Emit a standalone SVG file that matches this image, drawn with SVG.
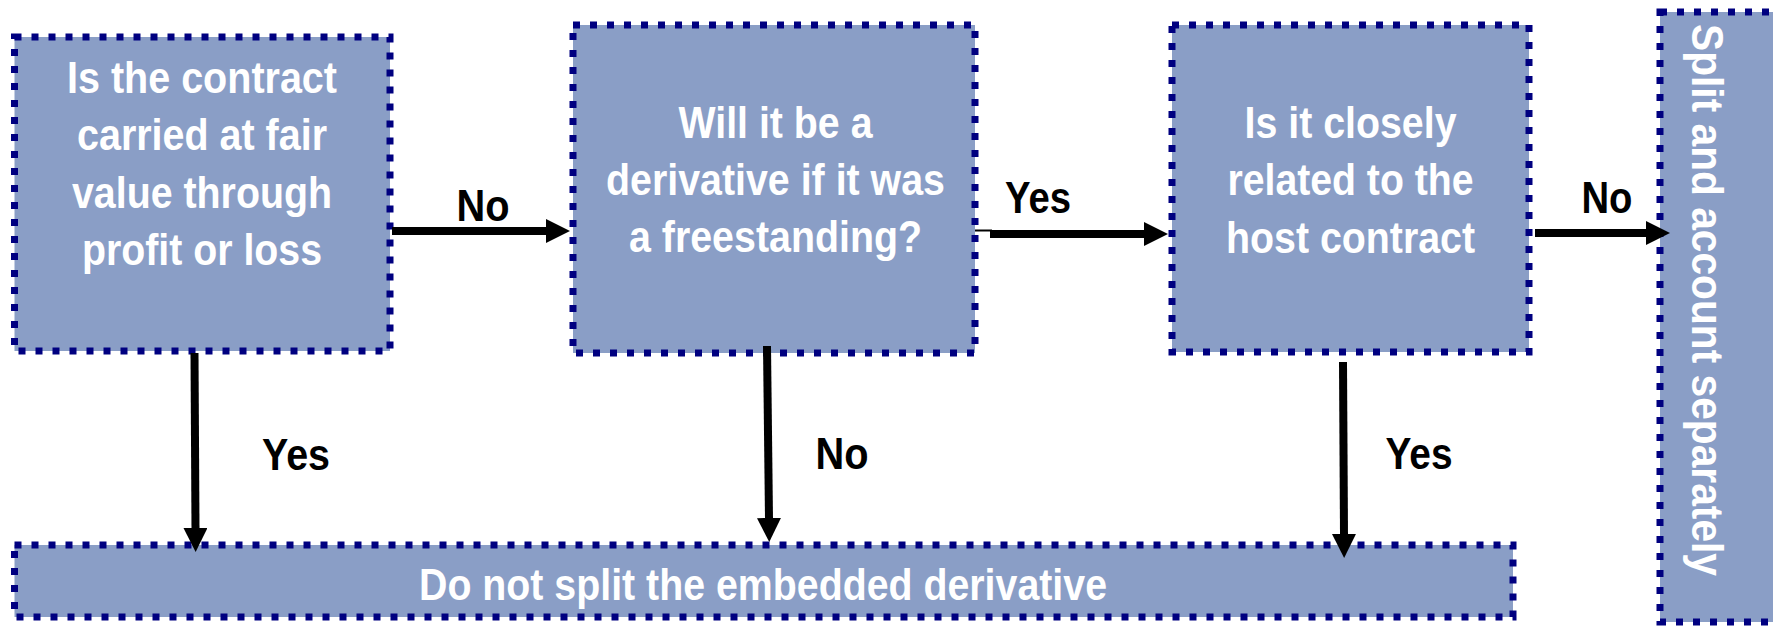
<svg xmlns="http://www.w3.org/2000/svg" width="1773" height="628" viewBox="0 0 1773 628">
<style>
.box{fill:#8A9EC6;stroke:#000080;stroke-width:7;stroke-dasharray:7 10}
.t{font-family:"Liberation Sans Narrow","Liberation Sans",Arial,sans-serif;font-weight:bold;font-size:45px;fill:#ffffff;text-anchor:middle}
.lb{font-family:"Liberation Sans Narrow","Liberation Sans",Arial,sans-serif;font-weight:bold;font-size:45px;fill:#000000;text-anchor:middle}
.ln{stroke:#000;stroke-width:8;fill:none}
</style>
<defs>
<marker id="ah" markerUnits="userSpaceOnUse" markerWidth="24" markerHeight="24" refX="1" refY="12" orient="auto" viewBox="0 0 24 24">
<path d="M0,0 L24,12 L0,24 Z" fill="#000"/>
</marker>
</defs>
<rect width="1773" height="628" fill="#ffffff"/>
<g id="n1">
<rect class="box" x="14.5" y="37" width="375.5" height="314"/>
<text class="t" x="202" y="93" textLength="270" lengthAdjust="spacingAndGlyphs">Is the contract</text>
<text class="t" x="202" y="150" textLength="250" lengthAdjust="spacingAndGlyphs">carried at fair</text>
<text class="t" x="202" y="208" textLength="260" lengthAdjust="spacingAndGlyphs">value through</text>
<text class="t" x="202" y="265" textLength="240" lengthAdjust="spacingAndGlyphs">profit or loss</text>
</g>
<g id="n2">
<rect class="box" x="573" y="25" width="402" height="328"/>
<text class="t" x="775.5" y="138" textLength="194" lengthAdjust="spacingAndGlyphs">Will it be a</text>
<text class="t" x="775.5" y="195" textLength="339" lengthAdjust="spacingAndGlyphs">derivative if it was</text>
<text class="t" x="775.5" y="252" textLength="293" lengthAdjust="spacingAndGlyphs">a freestanding?</text>
</g>
<g id="n3">
<rect class="box" x="1172" y="25" width="357" height="327"/>
<text class="t" x="1350.5" y="138" textLength="212" lengthAdjust="spacingAndGlyphs">Is it closely</text>
<text class="t" x="1350.5" y="195" textLength="246" lengthAdjust="spacingAndGlyphs">related to the</text>
<text class="t" x="1350.5" y="253" textLength="249" lengthAdjust="spacingAndGlyphs">host contract</text>
</g>
<g id="n4">
<rect class="box" x="1660" y="12" width="140" height="610"/>
<text class="t" transform="translate(1692,300) rotate(90)" x="0" y="0" textLength="552" lengthAdjust="spacingAndGlyphs">Split and account separately</text>
</g>
<g id="n5">
<rect class="box" x="14.5" y="545" width="1498.5" height="72"/>
<text class="t" x="763" y="600" textLength="688" lengthAdjust="spacingAndGlyphs">Do not split the embedded derivative</text>
</g>
<g id="connectors">
<line class="ln" x1="392" y1="231" x2="547" y2="231" marker-end="url(#ah)"/>
<line x1="975" y1="230.5" x2="992" y2="230.5" stroke="#000" stroke-width="2"/>
<line class="ln" x1="990" y1="234" x2="1145" y2="234" marker-end="url(#ah)"/>
<line class="ln" x1="1535" y1="233" x2="1647" y2="233" marker-end="url(#ah)"/>
<line class="ln" x1="194.5" y1="353" x2="195.5" y2="529" marker-end="url(#ah)"/>
<line class="ln" x1="767" y1="346" x2="769" y2="519" marker-end="url(#ah)"/>
<line class="ln" x1="1343" y1="362" x2="1344" y2="535" marker-end="url(#ah)"/>
<text class="lb" x="483" y="221" textLength="53" lengthAdjust="spacingAndGlyphs">No</text>
<text class="lb" x="1038" y="213" textLength="66" lengthAdjust="spacingAndGlyphs">Yes</text>
<text class="lb" x="1607" y="213" textLength="51" lengthAdjust="spacingAndGlyphs">No</text>
<text class="lb" x="296" y="470" textLength="68" lengthAdjust="spacingAndGlyphs">Yes</text>
<text class="lb" x="842" y="469" textLength="53" lengthAdjust="spacingAndGlyphs">No</text>
<text class="lb" x="1419" y="469" textLength="67" lengthAdjust="spacingAndGlyphs">Yes</text>
</g>
</svg>
